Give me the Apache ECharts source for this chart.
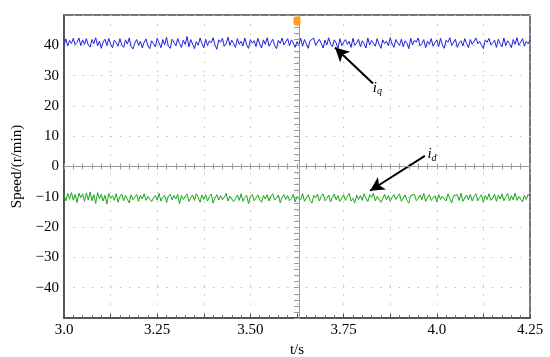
<!DOCTYPE html>
<html>
<head>
<meta charset="utf-8">
<script src="https://cdn.jsdelivr.net/npm/echarts@6/dist/echarts.min.js"></script>
<style>html,body{margin:0;padding:0;background:#fff}#c{width:550px;height:357px}</style>
</head>
<body>
<div id="c"></div>
<script>
// ---- data ----
var tStart = 3.0, tStep = 0.005;
var iqValues = [
40.0,42.1,39.8,41.6,40.6,42.3,40.2,41.0,42.4,39.9,
41.8,40.3,42.2,40.1,39.4,41.9,40.5,42.5,39.8,41.4,
39.0,41.1,42.0,39.9,42.3,40.4,39.2,41.7,40.9,39.7,
42.2,40.1,39.3,41.8,40.4,42.4,39.6,38.8,40.7,41.9,
40.0,41.3,39.1,41.0,42.1,39.8,38.9,41.5,40.5,39.5,
42.3,40.8,39.2,41.9,40.1,42.6,39.7,39.0,42.0,41.0,
39.8,42.2,40.6,39.3,41.7,40.3,42.9,39.5,41.9,40.4,
38.9,41.2,40.0,42.4,40.6,39.2,42.0,39.9,41.5,40.8,
42.5,40.1,38.7,41.8,41.0,42.3,39.7,40.5,42.7,40.0,
41.7,40.6,39.3,42.2,40.3,41.3,39.8,42.4,40.1,39.0,
41.9,40.7,41.5,39.6,42.3,40.4,39.1,41.8,40.3,42.5,
39.7,40.9,42.0,40.0,38.9,41.6,40.6,42.4,40.1,39.5,
42.2,39.9,41.8,40.8,39.3,41.2,40.3,42.3,39.7,41.9,
40.5,39.0,41.5,41.0,42.4,40.0,39.5,42.0,40.6,39.1,
41.7,40.1,42.5,40.4,39.6,41.8,40.8,38.9,42.2,39.9,
41.0,41.9,40.3,41.3,39.3,42.3,40.0,40.7,42.0,39.5,
41.5,40.5,39.1,42.4,40.1,41.6,41.0,39.7,42.2,40.3,
39.0,41.8,40.6,41.3,39.9,42.5,40.4,39.3,41.9,40.8,
40.0,42.0,39.5,41.5,40.6,38.9,42.3,40.1,41.7,41.0,
42.4,39.8,40.5,41.9,39.2,41.3,40.3,42.2,39.7,40.8,
41.8,39.6,42.3,40.1,39.0,41.7,41.0,42.5,39.9,40.5,
42.0,39.3,40.8,41.5,39.8,42.2,40.6,39.2,41.9,40.3,
39.7,42.4,40.5,41.3,40.0,38.9,41.8,41.0,42.3,40.1,
40.8,41.7,39.3,42.0,40.5,39.5,42.4,39.9,41.5,40.6,
39.2,41.9,40.3,42.5,40.0,41.0,42.2,39.7,41.3,40.5,
41.7
];
var idValues = [
-9.4,-11.3,-8.9,-10.8,-8.6,-11.1,-9.2,-11.9,-8.8,-10.3,
-9.0,-11.5,-8.7,-11.0,-8.4,-11.3,-9.3,-12.2,-8.6,-10.6,
-9.2,-11.4,-9.5,-12.4,-8.9,-10.5,-9.6,-11.2,-9.0,-11.8,
-9.8,-9.1,-11.3,-9.6,-10.8,-12.0,-9.3,-11.0,-10.1,-9.2,
-11.5,-9.5,-10.7,-9.0,-11.2,-9.9,-9.3,-11.6,-10.4,-9.6,
-11.1,-8.9,-11.4,-10.2,-9.5,-11.9,-9.8,-9.1,-11.0,-9.6,
-10.7,-9.2,-12.3,-9.6,-10.9,-9.9,-9.1,-11.5,-10.3,-9.4,
-11.2,-9.0,-10.2,-11.8,-9.4,-10.9,-9.3,-11.4,-9.9,-9.1,
-12.1,-10.4,-9.3,-11.1,-9.6,-11.0,-10.2,-8.9,-11.4,-9.8,
-9.3,-11.6,-10.6,-9.4,-11.2,-9.0,-11.5,-10.2,-9.5,-12.3,
-9.9,-9.2,-11.3,-10.4,-9.4,-11.0,-11.8,-9.6,-10.7,-9.3,
-11.4,-9.8,-9.0,-11.1,-10.4,-9.4,-12.0,-10.1,-9.3,-10.9,
-9.6,-11.3,-10.6,-9.2,-11.7,-9.9,-9.4,-11.0,-8.9,-11.5,
-10.4,-9.3,-11.2,-12.1,-9.5,-10.3,-9.1,-11.4,-9.8,-9.0,
-11.3,-10.6,-9.4,-11.7,-10.2,-9.1,-11.0,-9.6,-11.5,-10.4,
-9.3,-11.2,-9.9,-8.9,-11.4,-10.6,-12.0,-9.4,-10.9,-9.6,
-11.2,-9.0,-10.4,-11.6,-9.3,-10.2,-8.8,-11.3,-9.9,-9.4,
-11.8,-10.6,-9.2,-11.0,-9.6,-11.4,-10.2,-9.3,-10.9,-9.8,
-9.0,-11.5,-10.4,-9.4,-11.2,-12.1,-9.6,-9.9,-9.2,-11.3,
-10.6,-9.4,-11.0,-8.9,-11.5,-10.2,-9.3,-11.2,-10.4,-9.6,
-11.7,-9.2,-10.9,-9.8,-9.4,-11.4,-9.0,-10.6,-12.0,-9.6,
-10.2,-9.3,-11.2,-8.8,-11.5,-10.4,-9.4,-11.0,-9.2,-11.4,
-9.8,-9.0,-11.3,-10.2,-9.3,-11.8,-9.6,-10.9,-9.0,-11.2,
-10.4,-9.2,-11.5,-9.4,-10.7,-9.0,-11.3,-9.9,-8.9,-11.4,
-9.6,-11.0,-8.8,-11.2,-9.9,-9.3,-11.7,-9.5,-10.9,-9.2,
-10.2
];
var xTickValues = [3.0, 3.25, 3.5, 3.75, 4.0, 4.25];
var xTickText = ['3.0', '3.25', '3.50', '3.75', '4.0', '4.25'];
var yTickValues = [40, 30, 20, 10, 0, -10, -20, -30, -40];
var yTickText = ['40', '30', '20', '10', '0', '\u221210', '\u221220', '\u221230', '\u221240'];
var xName = 't/s';
var yName = 'Speed/(r/min)';
var xCenter = 3.625, yCenter = 0;
// annotation anchors (data space): [tail, head]
var iqArrow = [[3.829, 27.4], [3.727, 39.3]];
var idArrow = [[3.968, 3.5], [3.821, -8.0]];
var triggerAt = [3.625, 48];

// ---- build ----
function pairs(vals) {
  return vals.map(function (v, i) { return [+(tStart + i * tStep).toFixed(4), v]; });
}
var FONT = 'Liberation Serif';
var chart = echarts.init(document.getElementById('c'), null, {renderer: 'canvas'});
var G = {left: 64, top: 15, width: 466, height: 303, containLabel: false, outerBoundsMode: 'none'};
var CC = '#9c9c9c';
function centerAxes(gi, inside) {
  return {
    x: {
      type: 'value', gridIndex: gi, min: -0.625, max: 0.625, interval: 0.125,
      axisLine: {show: false, onZero: true},
      axisTick: {show: true, inside: inside, length: 3, lineStyle: {color: CC}},
      minorTick: {show: true, splitNumber: 5, length: 3, lineStyle: {color: CC}},
      axisLabel: {show: false}, splitLine: {show: false}
    },
    y: {
      type: 'value', gridIndex: gi, min: -50, max: 50, interval: 10,
      axisLine: {show: false, onZero: true},
      axisTick: {show: true, inside: inside, length: 3, lineStyle: {color: CC}},
      minorTick: {show: true, splitNumber: 5, length: 3, lineStyle: {color: CC}},
      axisLabel: {show: false}, splitLine: {show: false}
    }
  };
}
var c1 = centerAxes(1, true), c2 = centerAxes(2, false);
var arrowLabel = function (sub, dist) {
  return {
    show: true, position: 'start', distance: dist,
    formatter: '{i|i}{s|' + sub + '}',
    rich: {
      i: {fontFamily: FONT, fontStyle: 'italic', fontSize: 15, color: '#000'},
      s: {fontFamily: FONT, fontStyle: 'italic', fontSize: 10, color: '#000', padding: [8, 0, 0, 0]}
    }
  };
};
chart.setOption({
  animation: false,
  grid: [
    Object.assign({show: true, borderColor: '#4a4a4a', borderWidth: 1.5, backgroundColor: '#fff'}, G),
    Object.assign({}, G),
    Object.assign({}, G)
  ],
  xAxis: [{
    type: 'value', min: 3.0, max: 4.25, interval: 0.125,
    name: xName, nameLocation: 'middle', nameGap: 16,
    nameTextStyle: {fontFamily: FONT, fontSize: 15, color: '#000'},
    axisLine: {show: true, onZero: false, lineStyle: {color: '#4a4a4a', width: 1.5}},
    axisTick: {show: true, inside: true, length: 4, lineStyle: {color: '#4a4a4a'}},
    minorTick: {show: true, splitNumber: 5, length: 3, lineStyle: {color: '#6a6a6a'}},
    axisLabel: {
      margin: 5, fontFamily: FONT, fontSize: 15, color: '#000',
      formatter: function (v) {
        for (var k = 0; k < xTickValues.length; k++) if (Math.abs(v - xTickValues[k]) < 1e-6) return xTickText[k];
        return '';
      }
    },
    splitLine: {show: true, lineStyle: {color: '#bcbcbc', width: 1, type: [1.5, 7.8]}}
  }, c1.x, c2.x],
  yAxis: [{
    type: 'value', min: -50, max: 50, interval: 10,
    name: yName, nameLocation: 'middle', nameGap: 36, nameRotate: 90,
    nameTextStyle: {fontFamily: FONT, fontSize: 15, color: '#000'},
    axisLine: {show: true, onZero: false, lineStyle: {color: '#4a4a4a', width: 1.5}},
    axisTick: {show: false},
    axisLabel: {
      margin: 5, fontFamily: FONT, fontSize: 15, color: '#000',
      formatter: function (v) {
        for (var k = 0; k < yTickValues.length; k++) if (Math.abs(v - yTickValues[k]) < 1e-6) return yTickText[k];
        return '';
      }
    },
    splitLine: {show: true, lineStyle: {color: '#bcbcbc', width: 1, type: [1.5, 7.8]}}
  }, c1.y, c2.y],
  series: [{
    name: 'iq', type: 'line', data: pairs(iqValues), showSymbol: false, symbol: 'none',
    lineStyle: {color: '#1f1fe0', width: 1}, z: 5,
    markLine: {
      silent: true, symbol: ['none', 'arrow'], symbolSize: [11, 14],
      lineStyle: {color: '#000', width: 2, type: 'solid'},
      label: arrowLabel('q', 6),
      data: [[{coord: iqArrow[0]}, {coord: iqArrow[1]}]]
    },
    markPoint: {
      silent: true, symbol: 'roundRect', symbolSize: [7, 9],
      itemStyle: {color: '#f5a21e'}, label: {show: false},
      data: [{coord: triggerAt}]
    }
  }, {
    name: 'id', type: 'line', data: pairs(idValues), showSymbol: false, symbol: 'none',
    lineStyle: {color: '#1aa81a', width: 1}, z: 5,
    markLine: {
      silent: true, symbol: ['none', 'arrow'], symbolSize: [11, 14],
      lineStyle: {color: '#000', width: 2, type: 'solid'},
      label: arrowLabel('d', 3),
      data: [[{coord: idArrow[0]}, {coord: idArrow[1]}]]
    }
  }, {
    name: 'center', type: 'line', data: [], z: 1,
    markLine: {
      silent: true, symbol: ['none', 'none'], label: {show: false},
      lineStyle: {color: CC, width: 1, type: 'solid'},
      data: [{xAxis: xCenter}, {yAxis: yCenter}]
    }
  }]
});
</script>
</body>
</html>
